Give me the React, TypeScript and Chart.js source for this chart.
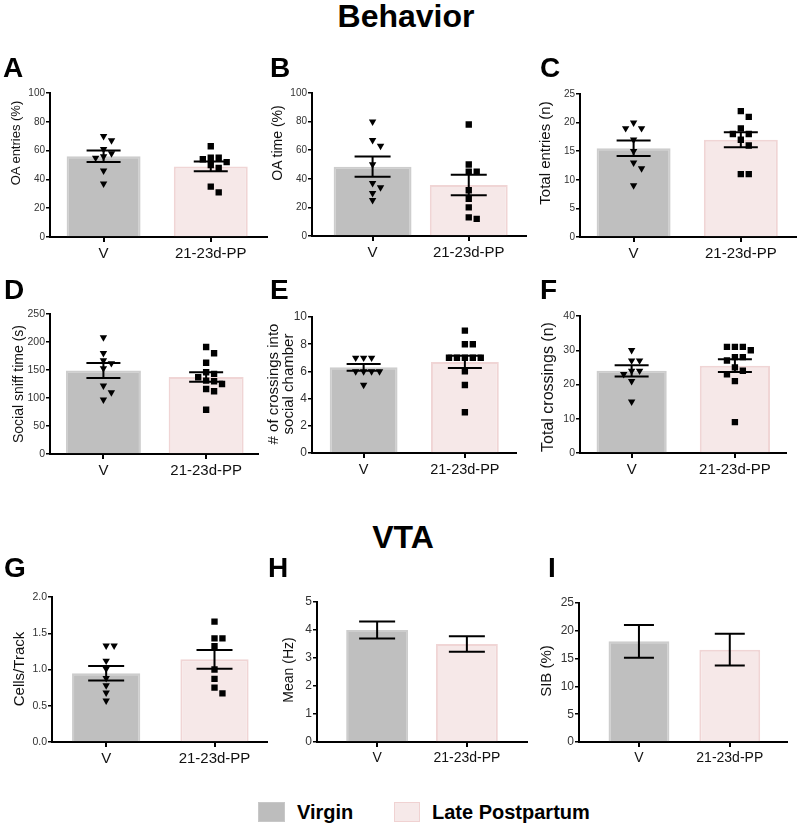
import React, { useEffect, useRef } from 'react';
import { Chart, registerables } from 'chart.js';
Chart.register(...registerables);

const categories = ['V', '21-23d-PP'];

// ---- data ----
const A_V = [70, 67, 61, 58, 56, 55, 46, 37];
const A_PP = [63, 55, 55, 54, 52, 50, 48, 35, 31];
const A_mean = [56, 49];
const A_sem = [4.0, 3.4];
const A_ticks = [0, 20, 40, 60, 80, 100];

const B_V = [80, 67, 63, 50, 37, 34, 30, 25];
const B_PP = [78, 50, 45, 45, 32, 26, 20, 13, 12];
const B_mean = [48.5, 35.7];
const B_sem = [7.1, 7.2];
const B_ticks = [0, 20, 40, 60, 80, 100];

const C_V = [20, 19, 19, 17, 15, 13, 12, 9];
const C_PP = [22, 21, 19, 18, 18, 17, 16, 11, 11];
const C_mean = [15.5, 17.0];
const C_sem = [1.35, 1.3];
const C_ticks = [0, 5, 10, 15, 20, 25];

const D_V = [208, 180, 167, 162, 153, 122, 110, 97];
const D_PP = [191, 180, 163, 146, 143, 137, 131, 130, 125, 116, 112, 79];
const D_mean = [149, 137.5];
const D_sem = [13.5, 8.6];
const D_ticks = [0, 50, 100, 150, 200, 250];

const E_V = [7, 7, 7, 6, 6, 6, 6, 5];
const E_PP = [9, 8, 8, 7, 7, 7, 7, 7, 6, 5, 3];
const E_mean = [6.3, 6.7];
const E_sem = [0.25, 0.45];
const E_ticks = [0, 2, 4, 6, 8, 10];

const F_V = [30, 27, 27, 24, 24, 23, 21, 15];
const F_PP = [31, 31, 31, 30, 28, 28, 27, 25, 24, 23, 21, 9];
const F_mean = [24, 25.5];
const F_sem = [1.65, 1.85];
const F_ticks = [0, 10, 20, 30, 40];

const G_V = [1.33, 1.33, 1.12, 1.01, 0.88, 0.78, 0.68, 0.57];
const G_PP = [1.66, 1.43, 1.43, 1.32, 1.0, 0.87, 0.75, 0.67];
const G_mean = [0.95, 1.14];
const G_sem = [0.1, 0.13];
const G_ticks = [0, 0.5, 1.0, 1.5, 2.0];

const H_mean = [4.0, 3.5];
const H_sem = [0.3, 0.28];
const H_ticks = [0, 1, 2, 3, 4, 5];

const I_mean = [18.1, 16.6];
const I_sem = [2.95, 2.85];
const I_ticks = [0, 5, 10, 15, 20, 25];

// ---- styles ----
const FONT = '"Liberation Sans", Arial, Helvetica, sans-serif';
const V_FILL = '#bfbfbf';
const V_BORDER = '#cdcdcd';
const PP_FILL = '#f6e8e8';
const PP_BORDER = '#f0d5d5';

type Spec = {
  letter: string; letterX: number; letterY: number;
  left: number; axisX: number; top: number; zero: number; right: number;
  xMin: number; xMax: number; barPct: number; capHalf: number;
  ticks: number[]; decimals: number;
  title: string[]; titleX: number; titleY: number; titleSize: number;
  yTickSize: number; xTickSize: number;
  v?: number[]; pp?: number[]; mean: number[]; sem: number[];
};

const panels: Spec[] = [
  { letter: 'A', letterX: 3, letterY: 54, left: 0, axisX: 50, top: 93, zero: 237, right: 268, xMin: -0.5, xMax: 1.52, barPct: 0.69, capHalf: 17,
    ticks: A_ticks, decimals: 0, title: ['OA entries (%)'], titleX: 16, titleY: 143, titleSize: 13, yTickSize: 10, xTickSize: 15,
    v: A_V, pp: A_PP, mean: A_mean, sem: A_sem },
  { letter: 'B', letterX: 270, letterY: 54, left: 262, axisX: 312, top: 93, zero: 236, right: 527, xMin: -0.63, xMax: 1.59, barPct: 0.81, capHalf: 18,
    ticks: B_ticks, decimals: 0, title: ['OA time (%)'], titleX: 277, titleY: 143, titleSize: 14, yTickSize: 10, xTickSize: 15,
    v: B_V, pp: B_PP, mean: B_mean, sem: B_sem },
  { letter: 'C', letterX: 540, letterY: 54, left: 530, axisX: 580, top: 94, zero: 237, right: 797, xMin: -0.5, xMax: 1.51, barPct: 0.69, capHalf: 17,
    ticks: C_ticks, decimals: 0, title: ['Total entries (n)'], titleX: 545, titleY: 153, titleSize: 15, yTickSize: 10, xTickSize: 15,
    v: C_V, pp: C_PP, mean: C_mean, sem: C_sem },
  { letter: 'D', letterX: 4, letterY: 276, left: 0, axisX: 50, top: 314, zero: 454, right: 259, xMin: -0.52, xMax: 1.5, barPct: 0.73, capHalf: 17,
    ticks: D_ticks, decimals: 0, title: ['Social sniff time (s)'], titleX: 17.5, titleY: 384, titleSize: 14, yTickSize: 10.5, xTickSize: 15,
    v: D_V, pp: D_PP, mean: D_mean, sem: D_sem },
  { letter: 'E', letterX: 270, letterY: 276, left: 262, axisX: 312, top: 317, zero: 453, right: 517, xMin: -0.51, xMax: 1.5, barPct: 0.67, capHalf: 17,
    ticks: E_ticks, decimals: 0, title: ['# of crossings into', 'social chamber'], titleX: 280, titleY: 384, titleSize: 15, yTickSize: 12, xTickSize: 14.5,
    v: E_V, pp: E_PP, mean: E_mean, sem: E_sem },
  { letter: 'F', letterX: 540, letterY: 276, left: 530, axisX: 580, top: 316, zero: 453, right: 787, xMin: -0.5, xMax: 1.49, barPct: 0.68, capHalf: 17,
    ticks: F_ticks, decimals: 0, title: ['Total crossings (n)'], titleX: 548, titleY: 387, titleSize: 16, yTickSize: 10.5, xTickSize: 15,
    v: F_V, pp: F_PP, mean: F_mean, sem: F_sem },
  { letter: 'G', letterX: 4, letterY: 554, left: 0, axisX: 52, top: 597, zero: 742, right: 268, xMin: -0.5, xMax: 1.48, barPct: 0.63, capHalf: 18,
    ticks: G_ticks, decimals: 1, title: ['Cells/Track'], titleX: 19, titleY: 669, titleSize: 15, yTickSize: 10.5, xTickSize: 15,
    v: G_V, pp: G_PP, mean: G_mean, sem: G_sem },
  { letter: 'H', letterX: 268, letterY: 554, left: 262, axisX: 317, top: 602, zero: 742, right: 527, xMin: -0.67, xMax: 1.67, barPct: 0.69, capHalf: 18,
    ticks: H_ticks, decimals: 0, title: ['Mean (Hz)'], titleX: 288, titleY: 670, titleSize: 14, yTickSize: 12, xTickSize: 14,
    mean: H_mean, sem: H_sem },
  { letter: 'I', letterX: 548, letterY: 554, left: 530, axisX: 579, top: 603, zero: 742, right: 787, xMin: -0.66, xMax: 1.63, barPct: 0.67, capHalf: 15,
    ticks: I_ticks, decimals: 0, title: ['SIB (%)'], titleX: 546, titleY: 671, titleSize: 15, yTickSize: 12, xTickSize: 14,
    mean: I_mean, sem: I_sem },
];

// simple beeswarm: pixel offsets so markers do not overlap
function swarm(vals: number[], pxPerVal: number, s: number): number[] {
  const idx = vals.map((_, i) => i).sort((a, b) => vals[b] - vals[a]);
  const placed: { x: number; y: number }[] = [];
  const out = new Array(vals.length).fill(0);
  for (const i of idx) {
    const y = vals[i] * pxPerVal;
    for (let k = 0; k < 30; k++) {
      const off = k === 0 ? 0 : (k % 2 === 1 ? 1 : -1) * Math.ceil(k / 2) * s;
      const ok = placed.every((p) => Math.abs(p.x - off) >= s - 0.01 || Math.abs(p.y - y) >= s - 1);
      if (ok) { out[i] = off; placed.push({ x: off, y }); break; }
    }
  }
  return out;
}

const PAD_TOP = 10;
const X_AXIS_H = 35;
const PAD_RIGHT = 3;

function Panel({ p }: { p: Spec }) {
  const ref = useRef<HTMLCanvasElement>(null);
  const width = p.right - p.left + PAD_RIGHT;
  const height = p.zero - p.top + PAD_TOP + X_AXIS_H;

  useEffect(() => {
    if (!ref.current) return;
    const plotW = p.right - p.axisX;
    const plotH = p.zero - p.top;
    const unitPx = plotW / (p.xMax - p.xMin);
    const yMax = p.ticks[p.ticks.length - 1];
    const pxPerVal = plotH / yMax;

    const datasets: any[] = [];
    [p.v, p.pp].forEach((vals, gi) => {
      if (!vals) return;
      const offs = swarm(vals, pxPerVal, 8);
      datasets.push({
        type: 'scatter',
        data: vals.map((v, i) => ({ x: gi + offs[i] / unitPx, y: v })),
        pointStyle: gi === 0 ? 'triangle' : 'rect',
        pointRotation: gi === 0 ? 180 : 0,
        pointRadius: gi === 0 ? 4.3 : 4.5,
        pointBackgroundColor: '#000',
        pointBorderColor: '#000',
        pointBorderWidth: 0,
        order: 1,
      });
    });
    datasets.push({
      type: 'bar',
      data: p.mean.map((m, i) => ({ x: i, y: m })),
      backgroundColor: [V_FILL, PP_FILL],
      borderColor: [V_BORDER, PP_BORDER],
      borderWidth: 2,
      borderSkipped: 'start',
      barPercentage: p.barPct,
      categoryPercentage: 1,
      order: 2,
    });

    const errPlugin = {
      id: 'errbars',
      afterDatasetsDraw(chart: any) {
        const { ctx } = chart;
        const x = chart.scales.x;
        const y = chart.scales.y;
        ctx.save();
        ctx.strokeStyle = '#000';
        ctx.lineWidth = 2;
        p.mean.forEach((m, i) => {
          const cx = x.getPixelForValue(i);
          const yt = y.getPixelForValue(m + p.sem[i]);
          const yb = y.getPixelForValue(m - p.sem[i]);
          ctx.beginPath();
          ctx.moveTo(cx, yt); ctx.lineTo(cx, yb);
          ctx.moveTo(cx - p.capHalf, yt); ctx.lineTo(cx + p.capHalf, yt);
          ctx.moveTo(cx - p.capHalf, yb); ctx.lineTo(cx + p.capHalf, yb);
          ctx.stroke();
        });
        ctx.restore();
      },
    };

    const chart = new Chart(ref.current, {
      type: 'bar',
      data: { datasets },
      plugins: [errPlugin],
      options: {
        animation: false,
        responsive: false,
        devicePixelRatio: 1,
        layout: { padding: { top: PAD_TOP, right: PAD_RIGHT, left: 0, bottom: 0 } },
        plugins: { legend: { display: false }, tooltip: { enabled: false } },
        events: [],
        scales: {
          x: {
            type: 'linear',
            min: p.xMin,
            max: p.xMax,
            offset: false,
            afterBuildTicks: (s: any) => { s.ticks = [0, 1].map((v) => ({ value: v })); },
            afterFit: (s: any) => { s.height = X_AXIS_H; s.paddingLeft = 0; s.paddingRight = 0; },
            ticks: {
              callback: (v: any) => categories[Number(v)] ?? '',
              font: { size: p.xTickSize, family: FONT },
              color: '#111',
              padding: 3,
              maxRotation: 0,
              autoSkip: false,
            },
            grid: { display: true, drawOnChartArea: false, drawTicks: true, tickLength: 5, color: '#000', lineWidth: 2, offset: false },
            border: { display: true, color: '#000', width: 2 },
            z: 1,
          },
          y: {
            type: 'linear',
            min: 0,
            max: yMax,
            afterBuildTicks: (s: any) => { s.ticks = p.ticks.map((v) => ({ value: v })); },
            afterFit: (s: any) => { s.width = p.axisX - p.left; s.paddingTop = 0; s.paddingBottom = 0; },
            ticks: {
              callback: (v: any) => Number(v).toFixed(p.decimals),
              font: { size: p.yTickSize, family: FONT },
              color: '#333',
              padding: 1,
              autoSkip: false,
            },
            grid: { display: true, drawOnChartArea: false, drawTicks: true, tickLength: 4, color: '#000', lineWidth: 1.5 },
            border: { display: true, color: '#000', width: 2 },
            z: 1,
          },
        },
      } as any,
    });
    return () => chart.destroy();
  }, [p]);

  return (
    <>
      <canvas
        ref={ref}
        width={width}
        height={height}
        style={{ position: 'absolute', left: p.left, top: p.top - PAD_TOP, width, height }}
      />
      <div
        style={{
          position: 'absolute', left: p.titleX, top: p.titleY,
          transform: 'translate(-50%, -50%) rotate(-90deg)',
          whiteSpace: 'nowrap', textAlign: 'center',
          fontSize: p.titleSize, lineHeight: `${p.titleSize * 1.03}px`, color: '#111',
        }}
      >
        {p.title.map((t, i) => (<div key={i}>{t}</div>))}
      </div>
      <div style={{ position: 'absolute', left: p.letterX, top: p.letterY, fontSize: 28, lineHeight: '28px', fontWeight: 'bold', color: '#000' }}>
        {p.letter}
      </div>
    </>
  );
}

export default function App() {
  return (
    <div style={{ position: 'absolute', left: 0, top: 0, width: 800, height: 828, background: '#fff', fontFamily: FONT, overflow: 'hidden' }}>
      <div style={{ position: 'absolute', left: 406, top: 0, transform: 'translateX(-50%)', fontSize: 32, lineHeight: '32px', fontWeight: 'bold', whiteSpace: 'nowrap' }}>Behavior</div>
      <div style={{ position: 'absolute', left: 403, top: 521, transform: 'translateX(-50%)', fontSize: 32, lineHeight: '32px', fontWeight: 'bold', whiteSpace: 'nowrap' }}>VTA</div>
      {panels.map((p) => (<Panel key={p.letter} p={p} />))}
      <div style={{ position: 'absolute', left: 258, top: 802, width: 27, height: 20, background: '#bdbdbd', boxSizing: 'border-box', border: '1px solid #c8c8c8' }} />
      <div style={{ position: 'absolute', left: 297, top: 802, fontSize: 20, lineHeight: '20px', fontWeight: 'bold' }}>Virgin</div>
      <div style={{ position: 'absolute', left: 394, top: 802, width: 26, height: 20, background: '#f6e9e9', boxSizing: 'border-box', border: '1.5px solid #f0d2d2' }} />
      <div style={{ position: 'absolute', left: 432, top: 802, fontSize: 20, lineHeight: '20px', fontWeight: 'bold' }}>Late Postpartum</div>
    </div>
  );
}
